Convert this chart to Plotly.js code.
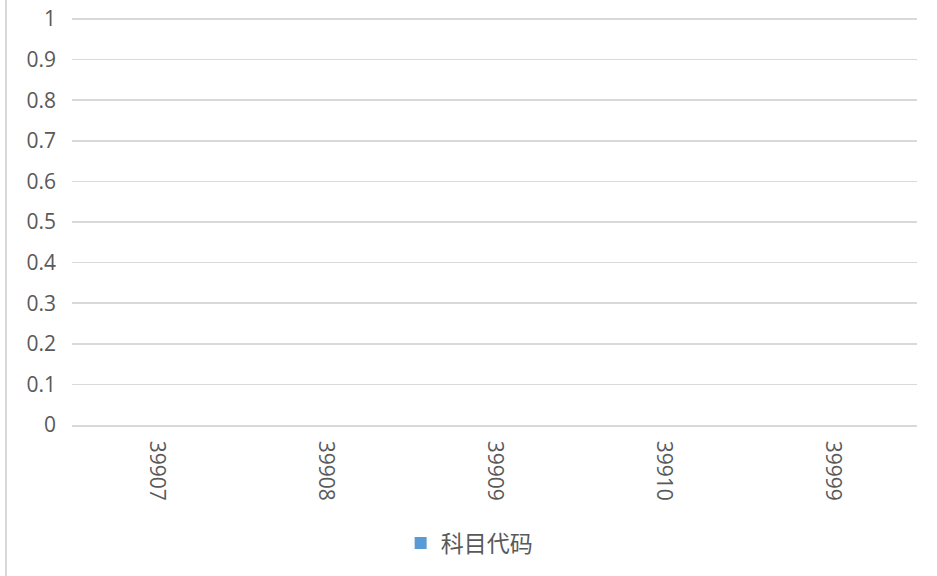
<!DOCTYPE html>
<html>
<head>
<meta charset="utf-8">
<script src="https://cdn.plot.ly/plotly-3.0.1.min.js"></script>
<style>
html,body{margin:0;padding:0;background:#fff;}
#wrap{position:absolute;left:0;top:0;width:937px;height:576px;}
#edge{position:absolute;left:5px;top:0;width:2px;height:576px;background:#d9d9d9;}
#chart{position:absolute;left:0;top:0;width:937px;height:576px;}
</style>
</head>
<body>
<div id="wrap"><div id="chart"></div><div id="edge"></div></div>
<script>
const categories = ["39907", "39908", "39909", "39910", "39999"];
const values = [0, 0, 0, 0, 0];
const seriesName = "科目代码";
const yTickVals = [0, 0.1, 0.2, 0.3, 0.4, 0.5, 0.6, 0.7, 0.8, 0.9, 1];
const yTickText = ["0", "0.1", "0.2", "0.3", "0.4", "0.5", "0.6", "0.7", "0.8", "0.9", "1"];

const fontFam = '"Open Sans", "Noto Sans CJK SC", sans-serif';
const trace = {
  type: 'bar',
  x: categories,
  y: values,
  name: seriesName,
  marker: {color: '#5B9BD5'},
  showlegend: true
};
const layout = {
  width: 937, height: 576,
  margin: {l: 72, r: 20, t: 18, b: 151},
  paper_bgcolor: '#ffffff', plot_bgcolor: '#ffffff',
  font: {family: fontFam, color: '#595959', size: 21},
  xaxis: {
    type: 'category',
    tickangle: 90,
    showgrid: false,
    showline: true, linecolor: '#d9d9d9', linewidth: 1.5,
    ticks: '',
    ticklabelstandoff: 10,
    tickfont: {size: 21, color: '#595959', family: fontFam},
    zeroline: false
  },
  yaxis: {
    range: [0, 1.0025],
    tickvals: yTickVals, ticktext: yTickText,
    showgrid: true, gridcolor: '#d9d9d9', gridwidth: 1.5,
    showline: false, zeroline: false,
    ticks: '',
    ticklabelstandoff: 15,
    tickfont: {size: 21, color: '#595959', family: fontFam}
  },
  legend: {
    orientation: 'h',
    x: 0.470, xanchor: 'center',
    y: -0.29, yanchor: 'middle',
    font: {size: 23, color: '#595959', family: fontFam},
    itemwidth: 30
  },
  showlegend: true
};
Plotly.newPlot('chart', [trace], layout, {displayModeBar: false, staticPlot: true});
</script>
</body>
</html>
